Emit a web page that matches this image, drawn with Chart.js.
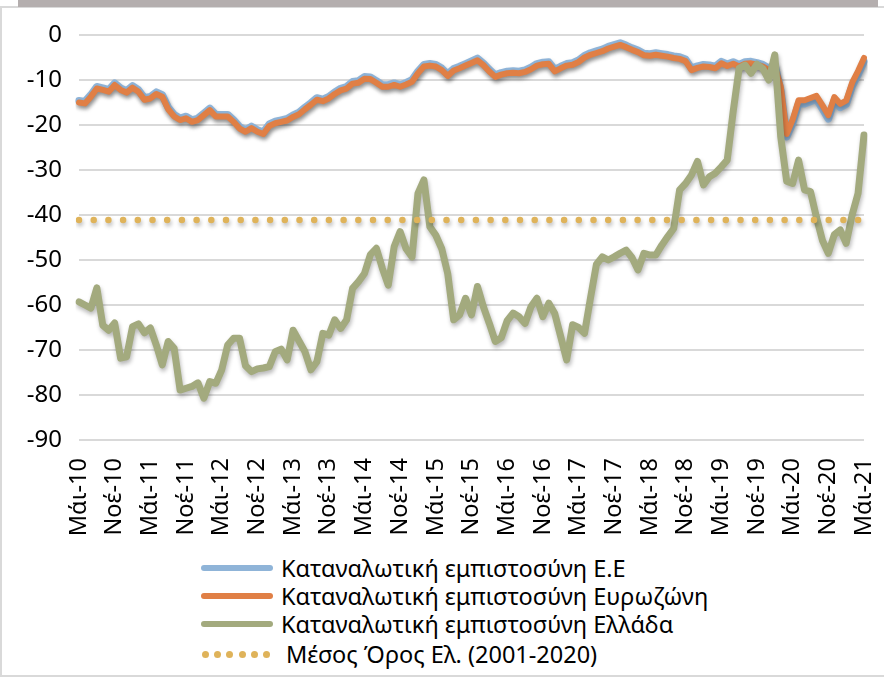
<!DOCTYPE html>
<html lang="el">
<head>
<meta charset="UTF-8">
<title>Καταναλωτική εμπιστοσύνη</title>
<script src="https://cdn.jsdelivr.net/npm/chart.js"></script>
<style>
  html, body { margin: 0; padding: 0; background: #fff; }
  body { width: 884px; height: 678px; position: relative; overflow: hidden; font-family: "Noto Sans", sans-serif; }
  .frame { position: absolute; left: 0; top: 6px; width: 900px; height: 671px; box-sizing: border-box;
           border-left: 2px solid #d9d9d9; border-top: 2px solid #d9d9d9; border-bottom: 2px solid #d9d9d9; }
  .topbar { position: absolute; left: 18px; top: 0; width: 860px; height: 7px; background: #b4aeae; }
  #wrap { position: absolute; left: 0; top: 0; width: 884px; height: 545px; }
  .row { position: absolute; left: 201px; height: 28px; display: flex; align-items: center;
         font-size: 23.5px; color: #000; white-space: nowrap; }
  .swatch { width: 72px; height: 6px; border-radius: 3px; margin-right: 8px; }
  .dots { width: 72px; height: 7px; margin-right: 13px; position: relative; }
  .dots span { position: absolute; top: 0; width: 7px; height: 7px; border-radius: 50%; }
</style>
</head>
<body>
<div class="frame"></div>
<div class="topbar"></div>
<div id="wrap"><canvas id="conf"></canvas></div>
<div id="legend"></div>

<script>
// months May 2010 .. May 2021
const monthNames = ['Ιαν', 'Φεβ', 'Μάρ', 'Απρ', 'Μάι', 'Ιούν', 'Ιούλ', 'Αύγ', 'Σεπ', 'Οκτ', 'Νοέ', 'Δεκ'];
const labels = [];
for (let i = 0; i < 133; i++) {
    const m = (4 + i) % 12;
    const yy = 10 + Math.floor((4 + i) / 12);
    labels.push(monthNames[m] + '-' + yy);
}

const euConf = [
    -14.6, -14.8, -13.3, -11.5, -11.8, -12.2, -10.7, -11.8, -12.4, -11.3, -12.2, -14.0,
    -13.7, -12.7, -13.3, -16.1, -17.7, -18.5, -18.1, -18.9, -18.5, -17.4, -16.3, -17.7,
    -17.7, -17.7, -18.9, -20.4, -21.1, -20.3, -21.1, -21.6, -19.8, -19.2, -18.9, -18.6,
    -17.8, -17.2, -16.1, -15.1, -14.0, -14.3, -13.7, -12.7, -11.9, -11.5, -10.4, -10.2,
    -9.3, -9.4, -10.2, -11.1, -11.1, -10.7, -11.1, -10.6, -10.0, -8.1, -6.6, -6.4,
    -6.6, -7.4, -8.7, -7.5, -7.0, -6.4, -5.8, -5.2, -6.3, -7.7, -8.9, -8.4,
    -8.1, -8.0, -8.1, -7.8, -7.2, -6.4, -6.1, -6.0, -7.7, -7.0, -6.4, -6.2,
    -5.6, -4.6, -4.0, -3.6, -3.2, -2.6, -2.2, -1.8, -2.3, -2.9, -3.4, -4.1,
    -4.2, -4.0, -4.2, -4.4, -4.7, -4.9, -5.4, -7.4, -6.9, -6.6, -6.7, -7.0,
    -5.9, -6.5, -6.0, -6.6, -6.0, -5.9, -6.2, -6.6, -7.4, -6.6, -12.3, -22.6,
    -19.6, -15.3, -15.3, -14.8, -14.3, -16.4, -18.6, -14.6, -16.1, -15.4, -11.4, -8.8,
    -5.9
];

const euroConf = [
    -15.0, -15.2, -13.7, -11.9, -12.2, -12.6, -11.1, -12.2, -12.8, -11.7, -12.6, -14.4,
    -14.1, -13.1, -13.7, -16.5, -18.1, -18.9, -18.5, -19.3, -18.9, -17.8, -16.7, -18.1,
    -18.1, -18.1, -19.3, -20.8, -21.5, -20.7, -21.5, -22.0, -20.2, -19.6, -19.3, -19.0,
    -18.2, -17.6, -16.5, -15.5, -14.4, -14.7, -14.1, -13.1, -12.3, -11.9, -10.8, -10.6,
    -9.7, -9.8, -10.6, -11.5, -11.5, -11.1, -11.5, -11.0, -10.4, -8.5, -7.0, -6.8,
    -7.0, -7.8, -9.1, -7.9, -7.4, -6.8, -6.2, -5.6, -6.7, -8.1, -9.3, -8.8,
    -8.5, -8.4, -8.5, -8.2, -7.6, -6.8, -6.5, -6.4, -8.1, -7.4, -6.8, -6.6,
    -6.0, -5.0, -4.4, -4.0, -3.6, -3.0, -2.6, -2.2, -2.7, -3.3, -3.8, -4.5,
    -4.6, -4.4, -4.6, -4.8, -5.1, -5.3, -5.8, -7.8, -7.3, -7.0, -7.1, -7.4,
    -6.3, -6.9, -6.4, -7.0, -6.4, -6.3, -6.6, -7.0, -7.8, -7.0, -11.5, -22.0,
    -18.8, -14.5, -14.5, -14.0, -13.5, -15.6, -17.8, -13.8, -15.3, -14.6, -10.6, -8.0,
    -5.1
];

const grConf = [
    -59.3, -60.0, -60.7, -56.2, -64.5, -65.6, -64.0, -71.8, -71.5, -64.8, -64.2, -66.2,
    -65.1, -68.9, -73.3, -68.1, -69.6, -78.9, -78.5, -78.1, -77.3, -80.7, -77.0, -77.4,
    -74.4, -68.9, -67.4, -67.4, -73.5, -74.8, -74.2, -74.0, -73.7, -70.4, -69.8, -72.2,
    -65.6, -68.0, -70.4, -74.4, -72.6, -66.3, -66.7, -63.3, -65.2, -63.3, -56.3, -54.8,
    -53.0, -48.8, -47.4, -51.8, -55.6, -47.0, -43.7, -47.5, -49.3, -35.2, -32.2, -42.6,
    -44.5, -47.5, -53.0, -63.3, -62.2, -58.5, -62.2, -55.9, -60.4, -64.1, -68.1, -67.3,
    -63.5, -61.8, -62.6, -64.1, -60.4, -58.5, -62.6, -59.6, -61.9, -67.0, -72.2, -64.4,
    -65.0, -66.3, -58.5, -51.0, -49.3, -50.0, -49.3, -48.5, -47.8, -49.5, -52.2, -48.5,
    -48.9, -48.9, -46.7, -44.8, -43.0, -34.4, -33.0, -31.1, -28.1, -33.3, -31.5, -30.7,
    -29.3, -27.8, -17.0, -7.4, -6.7, -8.5, -6.5, -7.5, -10.0, -4.4, -22.6, -32.5,
    -33.0, -27.8, -34.4, -34.8, -40.5, -45.6, -48.5, -44.4, -43.3, -46.3, -40.0, -35.2,
    -22.2
];

// Greek long-run average 2001-2020
const grAverage = -41.1;

const yTicks = [0, -10, -20, -30, -40, -50, -60, -70, -80, -90];

const seriesNames = [
    'Καταναλωτική εμπιστοσύνη Ε.Ε',
    'Καταναλωτική εμπιστοσύνη Ευρωζώνη',
    'Καταναλωτική εμπιστοσύνη Ελλάδα',
    'Μέσος Όρος Ελ. (2001-2020)'
];
const colors = ['#8fb4d8', '#e07f45', '#a3aa7e', '#dfb35a'];

// soft drop shadow like the office chart
const shadowPlugin = {
    id: 'shadow',
    beforeDatasetDraw(chart) {
        const ctx = chart.ctx;
        ctx.save();
        ctx.shadowColor = 'rgba(0,0,0,0.28)';
        ctx.shadowBlur = 4;
        ctx.shadowOffsetX = 1;
        ctx.shadowOffsetY = 3;
    },
    afterDatasetDraw(chart) {
        chart.ctx.restore();
    }
};

Chart.defaults.font.family = '"Noto Sans", sans-serif';
Chart.defaults.color = '#000';

const lineStyle = {
    pointRadius: 0,
    tension: 0,
    fill: false,
    borderCapStyle: 'round',
    borderJoinStyle: 'round'
};

const chart = new Chart(document.getElementById('conf'), {
    type: 'line',
    data: {
        labels: labels,
        datasets: [
            { ...lineStyle, label: seriesNames[0], data: euConf, borderColor: colors[0], borderWidth: 7.5, order: 3 },
            { ...lineStyle, label: seriesNames[1], data: euroConf, borderColor: colors[1], borderWidth: 6, order: 2 },
            { ...lineStyle, label: seriesNames[2], data: grConf, borderColor: colors[2], borderWidth: 7, order: 1 },
            { ...lineStyle, label: seriesNames[3], data: labels.map(() => grAverage), borderColor: colors[3],
              borderWidth: 6.5, borderDash: [0, 14.7], order: 0 }
        ]
    },
    options: {
        responsive: true,
        maintainAspectRatio: false,
        animation: false,
        layout: { padding: { top: 35, right: 20, left: 0, bottom: 0 } },
        plugins: {
            legend: { display: false },
            tooltip: { enabled: false }
        },
        scales: {
            x: {
                grid: { display: false },
                border: { display: false },
                afterFit(scale) {
                    scale.height = 105;
                    scale.paddingLeft = 0;
                    scale.paddingRight = 0;
                },
                ticks: {
                    autoSkip: false,
                    minRotation: 90,
                    maxRotation: 90,
                    padding: 10,
                    font: { size: 23.5 },
                    callback(value, index) {
                        return index % 6 === 0 ? labels[index] : '';
                    }
                }
            },
            y: {
                min: -90,
                max: 0,
                afterFit(scale) {
                    scale.width = 79;
                    scale.paddingTop = 0;
                    scale.paddingBottom = 0;
                },
                afterBuildTicks(scale) { scale.ticks = yTicks.map(v => ({ value: v })); },
                border: { display: false },
                grid: { color: '#d9d9d9', lineWidth: 2, drawTicks: false },
                ticks: { padding: 17, font: { size: 24 } }
            }
        }
    },
    plugins: [shadowPlugin]
});

// legend below the chart
const legend = document.getElementById('legend');
const rowTops = [554, 582, 610, 640];
seriesNames.forEach((name, i) => {
    const row = document.createElement('div');
    row.className = 'row';
    row.style.top = rowTops[i] + 'px';
    let sample;
    if (i < 3) {
        sample = document.createElement('div');
        sample.className = 'swatch';
        sample.style.background = colors[i];
    } else {
        sample = document.createElement('div');
        sample.className = 'dots';
        for (let k = 0; k < 6; k++) {
            const d = document.createElement('span');
            d.style.left = (1 + k * 12.2) + 'px';
            d.style.background = colors[i];
            sample.appendChild(d);
        }
    }
    row.appendChild(sample);
    const txt = document.createElement('span');
    txt.textContent = name;
    row.appendChild(txt);
    legend.appendChild(row);
});
</script>
</body>
</html>
